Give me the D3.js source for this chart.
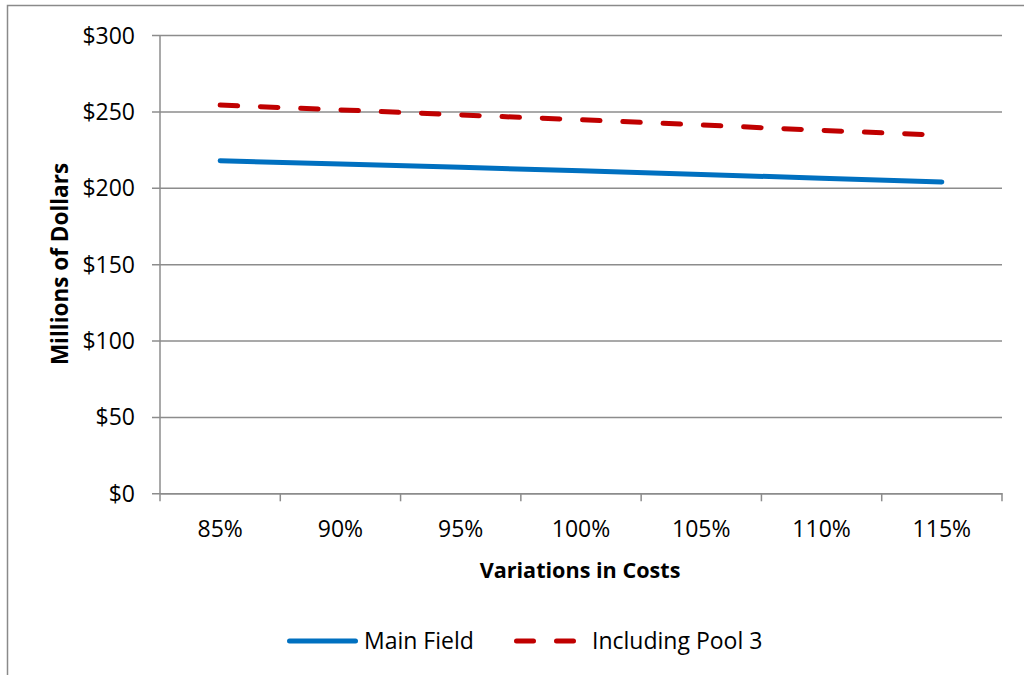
<!DOCTYPE html>
<html>
<head>
<meta charset="utf-8">
<script src="https://cdn.jsdelivr.net/npm/d3@7"></script>
<style>
  html, body { margin: 0; padding: 0; background: #fff; }
  svg { display: block; }
  text { font-family: "Open Sans", "Noto Sans", sans-serif; fill: #000; }
</style>
</head>
<body>
<svg id="chart" width="1024" height="675"></svg>
<script>
const categories = ["85%", "90%", "95%", "100%", "105%", "110%", "115%"];
const mainField = [217.7, 215.6, 213.4, 211.1, 208.7, 206.3, 203.8];
const includingPool3 = [254.1, 251.0, 247.7, 244.5, 241.1, 237.6, 234.4];
const yTicks = [0, 50, 100, 150, 200, 250, 300];
const seriesNames = ["Main Field", "Including Pool 3"];

(function () {
const svg = d3.select("#chart");
const pLeft = 160, pRight = 1002, pTop = 35, pBottom = 493.3;

const x = d3.scalePoint().domain(categories).range([pLeft, pRight]).padding(0.5);
const xBand = d3.scaleBand().domain(categories).range([pLeft, pRight]).padding(0);
const y = d3.scaleLinear().domain([0, 300]).range([pBottom, pTop]);

// chart border (Excel chart area outline)
svg.append("path")
  .attr("d", `M7.5,675 L7.5,5.5 L1024,5.5`)
  .attr("fill", "none").attr("stroke", "#8a8a8a").attr("stroke-width", 1.5);

// gridlines + y axis
const yAxis = d3.axisLeft(y).tickValues(yTicks).tickFormat(d => "$" + d)
  .tickSize(-(pRight - pLeft)).tickSizeOuter(0);
const gy = svg.append("g").attr("transform", `translate(${pLeft},0)`).call(yAxis);
gy.select(".domain").remove();
gy.selectAll(".tick line").attr("stroke", "#8c8c8c").attr("stroke-width", 1.5)
  .attr("x1", -8);
gy.selectAll(".tick text").attr("x", -25).attr("font-size", "23px")
  .attr("font-family", "Open Sans").attr("fill", "#000").attr("dy", "0.35em");

// vertical y axis line
svg.append("line").attr("x1", pLeft).attr("x2", pLeft).attr("y1", pTop).attr("y2", pBottom)
  .attr("stroke", "#8c8c8c").attr("stroke-width", 1.5);

// x axis
const xAxis = d3.axisBottom(xBand).tickSize(0).tickSizeOuter(0);
const gx = svg.append("g").attr("transform", `translate(0,${pBottom})`).call(xAxis);
gx.select(".domain").attr("stroke", "#8c8c8c").attr("stroke-width", 1.5);
gx.selectAll(".tick text").attr("y", 36).attr("dy", "0.35em").attr("font-size", "23px")
  .attr("font-family", "Open Sans").attr("fill", "#000");
// category boundary tick marks
const boundaries = categories.map(c => xBand(c)).concat([pRight]);
svg.append("g").selectAll("line").data(boundaries).join("line")
  .attr("x1", d => d).attr("x2", d => d)
  .attr("y1", pBottom).attr("y2", pBottom + 8)
  .attr("stroke", "#8c8c8c").attr("stroke-width", 1.5);

// lines
const line = d3.line().x((d, i) => x(categories[i])).y(d => y(d));
svg.append("path").datum(mainField).attr("d", line)
  .attr("fill", "none").attr("stroke", "#0070C0").attr("stroke-width", 5)
  .attr("stroke-linecap", "round").attr("stroke-linejoin", "round");
svg.append("path").datum(includingPool3).attr("d", line)
  .attr("fill", "none").attr("stroke", "#C00000").attr("stroke-width", 5)
  .attr("stroke-linecap", "round").attr("stroke-linejoin", "round")
  .attr("stroke-dasharray", "17.5,22.8");

// axis titles
svg.append("text").attr("x", (pLeft + pRight) / 2 - 1).attr("y", 570).attr("dy", "0.35em")
  .attr("text-anchor", "middle").attr("font-weight", "bold").attr("font-size", "21.6px")
  .text("Variations in Costs");
svg.append("text").attr("transform", "translate(60,264) rotate(-90)").attr("dy", "0.35em")
  .attr("text-anchor", "middle").attr("font-weight", "bold").attr("font-size", "22.5px")
  .text("Millions of Dollars");

// legend
const lg = svg.append("g");
lg.append("line").attr("x1", 289.5).attr("x2", 355.5).attr("y1", 641).attr("y2", 641)
  .attr("stroke", "#0070C0").attr("stroke-width", 5).attr("stroke-linecap", "round");
lg.append("text").attr("x", 364).attr("y", 641).attr("dy", "0.35em").attr("font-size", "23px")
  .text(seriesNames[0]);
lg.append("line").attr("x1", 516.5).attr("x2", 573.5).attr("y1", 641).attr("y2", 641)
  .attr("stroke", "#C00000").attr("stroke-width", 5).attr("stroke-linecap", "round")
  .attr("stroke-dasharray", "17,23");
lg.append("text").attr("x", 592).attr("y", 641).attr("dy", "0.35em").attr("font-size", "23px")
  .text(seriesNames[1]);
})();
</script>
</body>
</html>
